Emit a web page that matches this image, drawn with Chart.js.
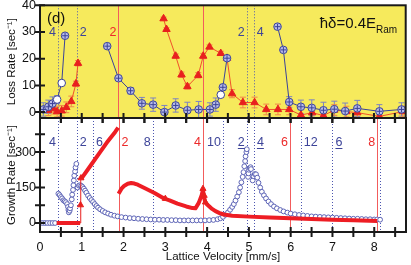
<!DOCTYPE html>
<html>
<head>
<meta charset="utf-8">
<script src="https://cdn.jsdelivr.net/npm/chart.js@4.4.1/dist/chart.umd.min.js"></script>
<style>
  html, body { margin: 0; padding: 0; background: #fff; }
  #wrap { position: relative; width: 411px; height: 265px; overflow: hidden; }
  canvas { position: absolute; left: 0; }
  #growth { top: 112px; }
  #loss { top: 0; }
</style>
</head>
<body>
<div id="wrap">
  <canvas id="growth" width="411" height="153"></canvas>
  <canvas id="loss" width="411" height="124"></canvas>
</div>
<script>
// ---- data ----
const X_MIN = 0, X_MAX = 8.76;

// (top) loss rate, blue circles
const lossBlueX   = [0.08, 0.2, 0.3, 0.41, 0.52, 0.6, 1.1, 1.61, 1.88, 2.17, 2.44, 2.71, 2.98, 3.25, 3.53, 3.8, 4.07, 4.21, 4.33, 4.38, 4.48, 5.0, 5.69, 5.83, 5.97, 6.25, 6.51, 6.79, 7.05, 7.31, 7.6, 8.13, 8.66];
const lossBlueY   = [1, 2, 3.2, 4.7, 10.9, 28.6, null, 24.7, 12.7, 8, 3.3, 2.8, 0, 2.5, 0.7, 1, 1, 2.8, 6.5, 9.3, 20.2, null, 32, 23.3, 3.8, 2, 1.6, 0.7, 1.1, 0.4, 1.4, 0.3, 1];
const lossBlueErr = [2.5, 2.5, 2.5, 1.5, 0.8, 0.6, 0, 0.6, 0.8, 1.2, 2.2, 2.5, 2.5, 2.5, 3, 3, 2.5, 2.5, 1, 1, 0.8, 0, 0.6, 0.8, 2, 2.5, 3, 3, 3, 3, 3, 2.5, 2.5];
const lossBlueHollow = [3, 4, 18];

// (top) loss rate, red triangles
const lossRedX   = [0.2, 0.32, 0.41, 0.52, 0.63, 0.75, 0.86, 0.91, 2.0, 2.96, 3.03, 3.25, 3.39, 3.53, 3.79, 3.91, 4.06, 4.33, 4.48, 4.6, 4.86, 5.14, 5.42, 5.7, 5.97, 6.25, 6.52, 6.79, 7.05, 7.34, 7.6, 8.13, 8.69];
const lossRedY   = [0.7, 1.3, 0.2, 0.5, 1.8, 4, 10.6, 18.3, null, 35, 31, 21, 14, 9.6, 13.8, 21, 24.4, 22, 20.2, 6.9, 3.6, 3.6, 1, 1, 1, -1.1, -0.2, -1.3, 0.8, 0.2, -0.2, -1.6, 0.2];
const lossRedErr = [2, 2, 2, 2, 2, 2, 1, 1, 0, 0.6, 0.6, 0.8, 1, 1, 1, 1, 0.8, 0.8, 0.8, 1.5, 2, 2, 2, 2, 2, 2, 2, 2, 2, 2, 2, 2, 2];

// (bottom) growth rate, red thick curve
const growthRedX = [0.40, 0.96, 0.975, 0.99, 1.2, 1.4, 1.6, 1.8, 1.87, 1.875, 1.88, 1.95, 2.02, 2.1, 2.18, 2.26, 2.34, 2.5, 2.74, 2.98, 3.1, 3.29, 3.5, 3.65, 3.72, 3.8, 3.87, 3.9, 3.92, 3.95, 4.0, 4.1, 4.2, 4.3, 4.4, 4.6, 5.0, 5.5, 6.0, 6.5, 7.0, 7.5, 8.07];
const growthRedY = [0, 0, null, 188, 240, 290, 340, 385, 403, null, 124, 145, 158, 166, 169, 167, 162, 148, 127, 103, 96, 82, 70, 63, 62, 85, 118, 140, 118, 90, 78, 62, 50, 42, 36, 31, 27, 23, 20, 17, 14, 12, 9];
const growthStepX = [0.96, 0.97, 0.98];
const growthStepY = [0, 76, 190];
const growthMarkX = [0.97, 0.98, 3.0, 3.9, 3.93, 3.96];
const growthMarkY = [76, 190, 103, 145, 116, 88];

// (bottom) growth rate, blue open circles
const growthBlueX = [0, 0.06, 0.12, 0.18, 0.24, 0.3, 0.36,
  0.44, 0.47, 0.5, 0.53, 0.56, 0.59, 0.62, 0.65, 0.67, 0.68, 0.69, 0.71, 0.72, 0.74, 0.76, 0.77, 0.79, 0.8, 0.81, 0.82, 0.84, 0.85, 0.87,
  0.9, 0.93, 0.96, 0.99, 1.02, 1.05, 1.08, 1.11, 1.15, 1.19, 1.23, 1.27, 1.31, 1.35, 1.39, 1.44, 1.5, 1.56, 1.63, 1.7, 1.78, 1.86, 1.95,
  2.05, 2.15, 2.25, 2.35, 2.45, 2.55, 2.65, 2.75, 2.85, 2.95, 3.05, 3.15, 3.25, 3.35, 3.45, 3.55, 3.65, 3.75, 3.85, 3.95, 4.05, 4.15,
  4.25, 4.32, 4.38, 4.44, 4.5, 4.55, 4.6, 4.64, 4.68, 4.72, 4.76, 4.79, 4.82, 4.85, 4.87, 4.89, 4.91, 4.92, 4.94, 4.95,
  4.98, 4.99, 5.0, 5.02, 5.04, 5.05,
  5.09, 5.11, 5.14, 5.17, 5.2, 5.23, 5.27, 5.31, 5.36, 5.41, 5.47, 5.53, 5.6, 5.67, 5.75, 5.83, 5.92, 6.0, 6.1, 6.2, 6.3, 6.4, 6.5,
  6.6, 6.7, 6.8, 6.9, 7.0, 7.1, 7.2, 7.3, 7.4, 7.5, 7.6, 7.7, 7.8, 7.9, 8.0, 8.07, 8.14];
const growthBlueY = [0, 0, 0, 0, 0, 0, 0,
  124, 118, 110, 104, 96, 92, 88, 80, 68, 55, 45, 52, 62, 75, 100, 120, 140, 160, 180, 200, 218, 235, 250,
  150, 158, 160, 157, 152, 145, 137, 128, 116, 106, 97, 89, 80, 72, 65, 58, 51, 45, 40, 35, 31, 28, 25,
  23, 21, 20, 18, 17, 16, 15, 14, 14, 13, 13, 12, 12, 11, 11, 11, 11, 11, 11, 11, 12, 13,
  16, 20, 26, 35, 45, 56, 68, 80, 95, 112, 130, 150, 172, 195, 215, 240, 262, 282, 300, 312,
  195, 210, 225, 232, 236, 228,
  180, 198, 207, 206, 192, 170, 150, 132, 117, 104, 91, 80, 70, 62, 55, 49, 44, 40, 37, 34, 32, 30, 28,
  27, 26, 25, 24, 23, 22, 21, 20, 19, 18, 18, 17, 16, 16, 15, 15, 14];

// resonance markers: [label, position, colour, side, underlined]
const lossDotted = [0.43, 0.88, 4.95, 5.12];
const lossSolid = [1.88, 3.9];
const lossTags = [['4', 0.43, 'b', 'l'], ['2', 0.88, 'b', 'r'], ['2', 1.88, 'r', 'l'], ['2', 4.95, 'b', 'l'], ['4', 5.12, 'b', 'r']];
const growthDotted = [0.43, 0.88, 1.27, 2.7, 4.38, 4.95, 5.12, 6.24, 7.0, 8.14];
const growthSolid = [1.88, 3.9, 5.98, 8.07];
const growthTags = [['4', 0.43, 'b', 'l'], ['2', 0.88, 'b', 'r'], ['6', 1.27, 'b', 'r'], ['2', 1.88, 'r', 'r'], ['8', 2.7, 'b', 'l'],
  ['4', 3.9, 'r', 'l'], ['10', 4.38, 'b', 'l'], ['2', 4.95, 'b', 'l', true], ['4', 5.12, 'b', 'r', true], ['6', 5.98, 'r', 'l'],
  ['12', 6.24, 'b', 'r'], ['6', 7.0, 'b', 'r', true], ['8', 8.07, 'r', 'l']];

const BLUE = '#3b4399', RED = '#e8201e';
const TAG_COLOR = { b: '#3d4499', r: '#ec2a2a' };
const FONT = "'Liberation Sans', Arial, sans-serif";
Chart.defaults.font.family = FONT;
Chart.defaults.color = '#111';

const pts = (xs, ys) => xs.map((x, i) => ({ x, y: ys[i] }));

// frame, crossing ticks, resonance lines, error bars and text
const deco = {
  id: 'deco',
  beforeDraw(chart, args, o) {
    if (!o.fill) return;
    const { ctx, chartArea: a } = chart;
    ctx.save();
    ctx.fillStyle = o.fill;
    ctx.fillRect(a.left, a.top, a.right - a.left, a.bottom - a.top);
    ctx.restore();
  },
  beforeDatasetsDraw(chart, args, o) {
    const { ctx, chartArea: a, scales: { x, y } } = chart;
    ctx.save();
    ctx.beginPath();
    ctx.rect(a.left, a.top, a.right - a.left, a.bottom - a.top);
    ctx.clip();
    ctx.lineWidth = 1;
    const vline = v => {
      const px = Math.round(x.getPixelForValue(v)) + 0.5;
      ctx.beginPath(); ctx.moveTo(px, a.top); ctx.lineTo(px, a.bottom); ctx.stroke();
    };
    ctx.strokeStyle = '#f25c5c';
    o.solid.forEach(vline);
    ctx.strokeStyle = '#4c55b0';
    ctx.setLineDash([1, 2]);
    o.dotted.forEach(vline);
    ctx.setLineDash([]);
    (o.errors || []).forEach(e => {
      const meta = chart.getDatasetMeta(e.dataset);
      const data = chart.data.datasets[e.dataset].data;
      ctx.strokeStyle = e.color;
      meta.data.forEach((el, i) => {
        const d = data[i];
        if (d.y == null || !e.err[i]) return;
        const t = y.getPixelForValue(d.y + e.err[i]);
        const b = y.getPixelForValue(d.y - e.err[i]);
        ctx.beginPath();
        ctx.moveTo(el.x, t); ctx.lineTo(el.x, b);
        ctx.moveTo(el.x - 3, t); ctx.lineTo(el.x + 3, t);
        ctx.moveTo(el.x - 3, b); ctx.lineTo(el.x + 3, b);
        ctx.stroke();
      });
    });
    ctx.restore();
  },
  afterDatasetsDraw(chart, args, o) {
    const { ctx, chartArea: a, scales: { x } } = chart;
    ctx.save();
    if (o.cross != null) {
      const meta = chart.getDatasetMeta(o.cross);
      const data = chart.data.datasets[o.cross].data;
      ctx.strokeStyle = BLUE;
      ctx.lineWidth = 1;
      meta.data.forEach((el, i) => {
        if (data[i].y == null || lossBlueHollow.includes(i)) return;
        ctx.beginPath();
        ctx.moveTo(el.x - 3, el.y); ctx.lineTo(el.x + 3, el.y);
        ctx.moveTo(el.x, el.y - 3); ctx.lineTo(el.x, el.y + 3);
        ctx.stroke();
      });
    }
    ctx.font = '12.5px ' + FONT;
    ctx.textBaseline = 'alphabetic';
    o.tags.forEach(([txt, v, c, side, ul]) => {
      const px = x.getPixelForValue(v);
      const ty = a.top + o.tagY;
      ctx.fillStyle = TAG_COLOR[c];
      ctx.textAlign = side === 'l' ? 'right' : 'left';
      const tx = side === 'l' ? px - 2 : px + 3;
      ctx.fillText(txt, tx, ty);
      if (ul) {
        const w = ctx.measureText(txt).width;
        const x0 = side === 'l' ? tx - w : tx;
        ctx.strokeStyle = TAG_COLOR[c];
        ctx.lineWidth = 1;
        ctx.beginPath(); ctx.moveTo(x0, ty + 2.5); ctx.lineTo(x0 + w, ty + 2.5); ctx.stroke();
      }
    });
    if (o.panel) {
      ctx.fillStyle = '#111';
      ctx.textAlign = 'left';
      ctx.font = '15px ' + FONT;
      ctx.fillText('(d)', a.left + 7, a.top + 18);
      const hx = a.right - 86, hy = a.top + 23;
      ctx.fillText('ħδ=0.4E', hx, hy);
      const w = ctx.measureText('ħδ=0.4E').width;
      ctx.font = '10px ' + FONT;
      ctx.fillText('Ram', hx + w, hy + 5);
    }
    ctx.restore();
  },
  afterDraw(chart, args, o) {
    const { ctx, chartArea: a, scales: { x, y } } = chart;
    ctx.save();
    ctx.strokeStyle = '#1a1a1a';
    ctx.lineWidth = 2;
    ctx.strokeRect(a.left, a.top, a.right - a.left, a.bottom - a.top);
    ctx.beginPath();
    y.ticks.forEach(t => {
      const py = y.getPixelForValue(t.value);
      ctx.moveTo(a.left - 5, py); ctx.lineTo(a.left + 5, py);
    });
    x.ticks.forEach(t => {
      const px = x.getPixelForValue(t.value);
      if (px <= a.left + 1) return;
      ctx.moveTo(px, a.bottom - 5); ctx.lineTo(px, a.bottom + 5);
      if (o.topTicks) { ctx.moveTo(px, a.top - 5); ctx.lineTo(px, a.top + 5); }
    });
    ctx.stroke();
    ctx.restore();
  }
};

const yAxisFit = s => { s.width = 40; s.paddingTop = 0; s.paddingBottom = 0; };

// ---- top panel: loss rate ----
new Chart(document.getElementById('loss'), {
  type: 'line',
  data: {
    datasets: [
      {
        data: pts(lossBlueX, lossBlueY),
        borderColor: BLUE, borderWidth: 1,
        pointRadius: 3.8, pointBorderWidth: 1, pointBorderColor: BLUE,
        pointBackgroundColor: lossBlueX.map((_, i) => lossBlueHollow.includes(i) ? '#ffffff' : '#b8bbe8'),
        spanGaps: false
      },
      {
        data: pts(lossRedX, lossRedY),
        borderColor: '#f0502a', borderWidth: 1,
        pointStyle: 'triangle', pointRadius: 4.3,
        pointBackgroundColor: RED, pointBorderColor: RED,
        spanGaps: false
      }
    ]
  },
  options: {
    responsive: false, animation: false, events: [],
    layout: { padding: { left: 0, right: 3, top: 4, bottom: 6 } },
    plugins: {
      legend: { display: false }, tooltip: { enabled: false },
      deco: {
        fill: '#f6ea5c', solid: lossSolid, dotted: lossDotted, tags: lossTags, tagY: 31, panel: true, cross: 0,
        errors: [
          { dataset: 0, err: lossBlueErr, color: '#7d83c2' },
          { dataset: 1, err: lossRedErr, color: '#f2874a' }
        ]
      }
    },
    scales: {
      x: {
        type: 'linear', min: X_MIN, max: X_MAX,
        ticks: { display: false, stepSize: 0.5, includeBounds: false },
        grid: { display: false, drawTicks: false }, border: { display: false },
        afterFit(s) { s.height = 0; s.paddingLeft = 0; s.paddingRight = 0; }
      },
      y: {
        min: -2.2, max: 40,
        ticks: { stepSize: 10, includeBounds: false, padding: 4, font: { size: 12.5 } },
        grid: { display: false, drawTicks: false }, border: { display: false },
        title: { display: true, text: 'Loss Rate [sec⁻¹]', font: { size: 11.5 }, padding: { top: 5, bottom: 0 } },
        afterFit: yAxisFit
      }
    }
  },
  plugins: [deco]
});

// ---- bottom panel: growth rate ----
new Chart(document.getElementById('growth'), {
  type: 'line',
  data: {
    datasets: [
      {
        data: pts(growthMarkX, growthMarkY), showLine: false,
        pointStyle: 'triangle', pointRadius: 3.5,
        pointBackgroundColor: RED, pointBorderColor: RED
      },
      {
        data: pts(growthStepX, growthStepY),
        borderColor: RED, borderWidth: 1, pointRadius: 0
      },
      {
        data: pts(growthRedX, growthRedY),
        borderColor: '#ee1d24', borderWidth: 4, pointRadius: 0,
        spanGaps: false, borderJoinStyle: 'round'
      },
      {
        data: pts(growthBlueX, growthBlueY), showLine: false,
        pointRadius: 2.4, pointBorderWidth: 1,
        pointBorderColor: '#5d64b6', pointBackgroundColor: '#ffffff'
      }
    ]
  },
  options: {
    responsive: false, animation: false, events: [],
    layout: { padding: { left: 0, right: 3, top: 6, bottom: 0 } },
    plugins: {
      legend: { display: false }, tooltip: { enabled: false },
      deco: { solid: growthSolid, dotted: growthDotted, tags: growthTags, tagY: 28, topTicks: true }
    },
    scales: {
      x: {
        type: 'linear', min: X_MIN, max: X_MAX,
        ticks: {
          stepSize: 0.5, includeBounds: false, padding: 8, maxRotation: 0, autoSkip: false,
          font: { size: 12.5 },
          callback: v => Math.abs(v - Math.round(v)) < 1e-6 ? Math.round(v) : ''
        },
        grid: { display: false, drawTicks: false }, border: { display: false },
        title: { display: true, text: 'Lattice Velocity [mm/s]', font: { size: 11.5 }, padding: { top: 0, bottom: 1 } },
        afterFit(s) { s.height = 33; s.paddingLeft = 0; s.paddingRight = 0; }
      },
      y: {
        min: -38, max: 444,
        ticks: {
          stepSize: 75, includeBounds: false, padding: 4, font: { size: 12.5 },
          callback: v => v % 150 === 0 ? v : ''
        },
        grid: { display: false, drawTicks: false }, border: { display: false },
        title: { display: true, text: 'Growth Rate [sec⁻¹]', font: { size: 11.5 }, padding: { top: 5, bottom: 0 } },
        afterFit: yAxisFit
      }
    }
  },
  plugins: [deco]
});
</script>
</body>
</html>
